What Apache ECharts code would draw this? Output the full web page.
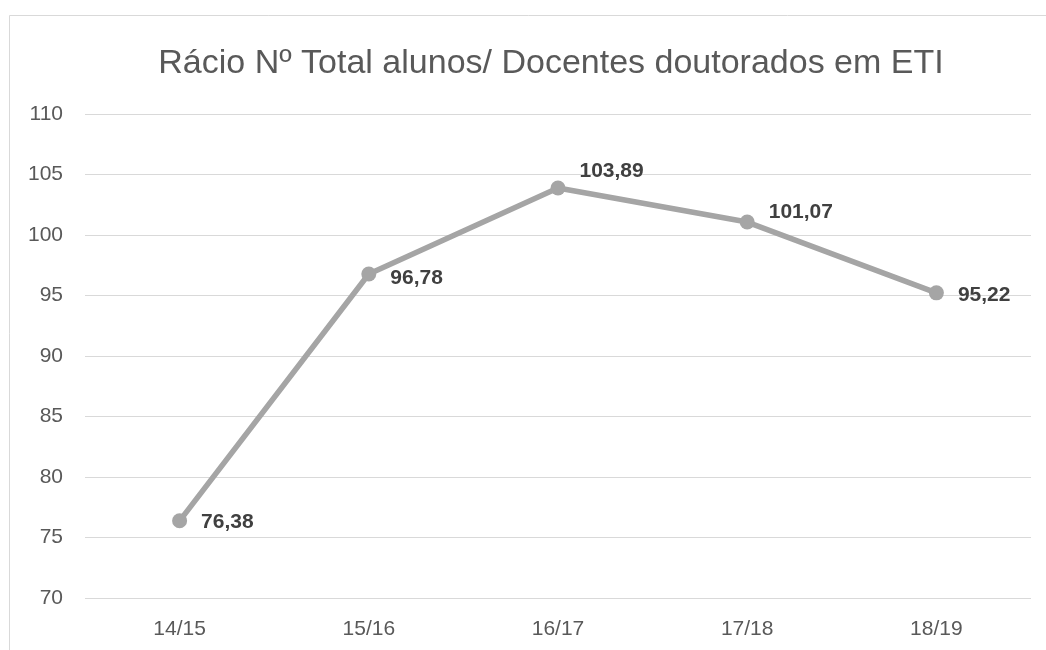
<!DOCTYPE html>
<html>
<head>
<meta charset="utf-8">
<script src="https://cdn.jsdelivr.net/npm/echarts@6/dist/echarts.min.js"></script>
<style>
  html, body { margin: 0; padding: 0; background: #fff; }
  #chart { width: 1046px; height: 650px; }
</style>
</head>
<body>
<div id="chart"></div>
<script>
const categories = ['14/15', '15/16', '16/17', '17/18', '18/19'];
const values = [76.38, 96.78, 103.89, 101.07, 95.22];
// label offsets per point (Excel put a couple of them slightly higher)
const labelOffsets = [[0, 1], [0, 4], [0, -17], [0, -10], [0, 2]];

const FONT = '"Liberation Sans", "Noto Sans", sans-serif';

const myChart = echarts.init(document.getElementById('chart'));

const option = {
  backgroundColor: '#fff',
  animation: false,
  title: {
    text: 'Rácio Nº Total alunos/ Docentes doutorados em ETI',
    left: 546,
    top: 42,
    textAlign: 'center',
    textStyle: {
      color: '#595959',
      fontSize: 34,
      fontWeight: 'normal',
      fontFamily: FONT,
    },
  },
  graphic: [
    {
      // chart border
      type: 'rect',
      shape: { x: 9.5, y: 15.5, width: 1100, height: 700 },
      style: { fill: 'none', stroke: '#d9d9d9', lineWidth: 1 },
      silent: true,
    },
  ],
  grid: {
    left: 85,
    right: 15,
    top: 114,
    bottom: 52,
  },
  xAxis: {
    type: 'category',
    data: categories,
    boundaryGap: true,
    axisLine: { show: false },
    axisTick: { show: false },
    axisLabel: {
      color: '#595959',
      fontSize: 21,
      fontFamily: FONT,
      margin: 21,
    },
  },
  yAxis: {
    type: 'value',
    min: 70,
    max: 110,
    interval: 5,
    axisLine: { show: false },
    axisTick: { show: false },
    axisLabel: {
      color: '#595959',
      fontSize: 21,
      fontFamily: FONT,
      margin: 22,
    },
    splitLine: {
      lineStyle: { color: '#d9d9d9', width: 1 },
    },
  },
  series: [
    {
      type: 'line',
      data: values.map((v, i) => ({
        value: v,
        label: { offset: labelOffsets[i] },
      })),
      symbol: 'circle',
      symbolSize: 15,
      lineStyle: { color: '#a5a5a5', width: 5.5 },
      itemStyle: { color: '#a5a5a5' },
      label: {
        show: true,
        position: 'right',
        distance: 14,
        color: '#404040',
        fontSize: 21,
        fontWeight: 'bold',
        fontFamily: FONT,
        formatter: (p) => p.value.toFixed(2).replace('.', ','),
      },
    },
  ],
};

myChart.setOption(option);
</script>
</body>
</html>
